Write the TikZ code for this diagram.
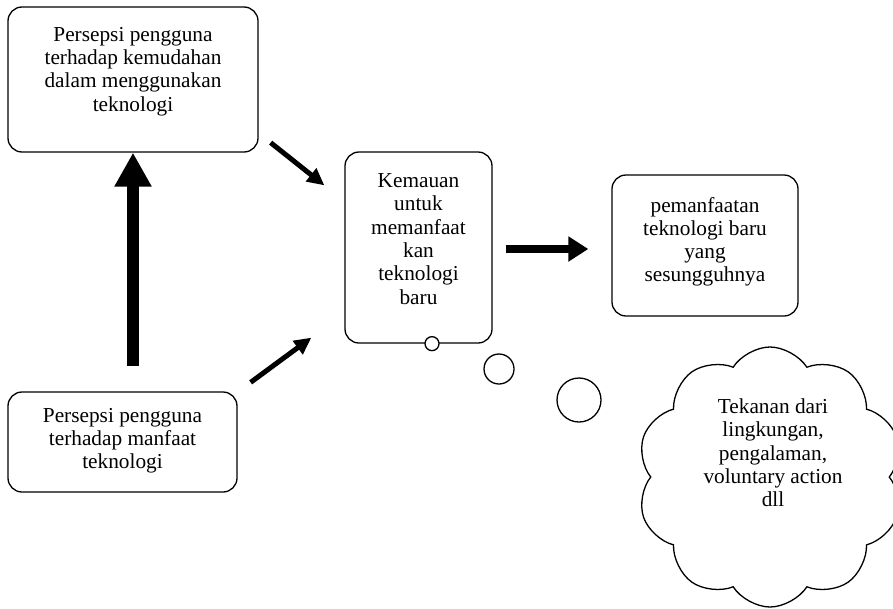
\documentclass[tikz,border=0pt]{standalone}
\usepackage{fontspec}
\setmainfont{Liberation Serif}
\usetikzlibrary{positioning, arrows.meta, calc, shapes.symbols}

\begin{document}
\begin{tikzpicture}[
        x=1pt, y=-1pt,
        % --- STILURI ---
        % 1. Casetele cu colturi rotunjite
        box/.style={
                draw=black,
                line width=1.3pt,
                rounded corners=14pt,
                inner sep=0pt,
                fill=white
            },
        % 2. Textul din casete
        txt/.style={
                align=center,
                inner sep=0pt,
                anchor=north,
                font=\fontsize{21.3}{23.3}\selectfont
            },
        % 3. Sagetile (groase, medii, subtiri)
        bigarrow/.style={
                line width=12pt,
                -{Triangle[width=35pt, length=34pt]}
            },
        midarrow/.style={
                line width=8pt,
                -{Triangle[width=24pt, length=20pt]}
            },
        thinarrow/.style={
                line width=5pt,
                -{Triangle[width=16pt, length=17pt]}
            },
        % 4. Bulele gandului
        bubble/.style={
                circle,
                draw=black,
                line width=1.3pt,
                fill=white,
                inner sep=0pt
            }
    ]

    \useasboundingbox (0,0) rectangle (893,608);

    % 1. Casetele
    \node[box, minimum width=250pt, minimum height=145pt] (mudah) at (133,79.5) {};
    \node[box, minimum width=229pt, minimum height=100pt] (manfaat) at (122.5,442) {};
    \node[box, minimum width=147pt, minimum height=191pt] (kemauan) at (418.5,247.5) {};
    \node[box, minimum width=186pt, minimum height=141pt] (guna) at (705,245.5) {};

    % 2. Norul
    \node[cloud, cloud puffs=10, cloud puff arc=115, cloud ignores aspect,
        draw=black, line width=1.3pt, minimum width=266pt, minimum height=260pt]
    (tekanan) at (770,477) {};

    % 3. Textele
    \node[txt, below=20.5pt of mudah.north] (mudahtxt) {
        Persepsi pengguna\\
        terhadap kemudahan\\
        dalam menggunakan\\
        teknologi
    };
    \node[txt, below=16.5pt of manfaat.north] (manfaattxt) {
        Persepsi pengguna\\
        terhadap manfaat\\
        teknologi
    };
    \node[txt, below=22pt of kemauan.north] (kemauantxt) {
        Kemauan\\
        untuk\\
        memanfaat\\
        kan\\
        teknologi\\
        baru
    };
    \node[txt, below=22.5pt of guna.north] (gunatxt) {
        pemanfaatan\\
        teknologi baru\\
        yang\\
        sesungguhnya
    };
    \node[txt] (tekanantxt) at ($(tekanan.center)+(3,-78.5)$) {
        Tekanan dari\\
        lingkungan,\\
        pengalaman,\\
        voluntary action\\
        dll
    };

    % 4. Sagetile
    \draw[bigarrow] ($(manfaat.north)+(10.5,-25)$) -- (mudah.south);
    \draw[thinarrow] ($(mudah.south east)+(12,-10)$) -- ($(kemauan.north west)+(-20,34)$);
    \draw[thinarrow] ($(manfaat.north east)+(13,-9)$) -- ($(kemauan.south west)+(-33,-6)$);
    \draw[midarrow] ($(kemauan.east)+(13,1.5)$) -- ($(guna.west)+(-23,3.5)$);

    % 5. Bulele
    \node[bubble, minimum size=14pt] (b1) at ($(kemauan.south)+(13.5,0)$) {};
    \node[bubble, minimum size=30pt] (b2) at (499,369) {};
    \node[bubble, minimum size=44pt] (b3) at (579,400) {};

\end{tikzpicture}
\end{document}
